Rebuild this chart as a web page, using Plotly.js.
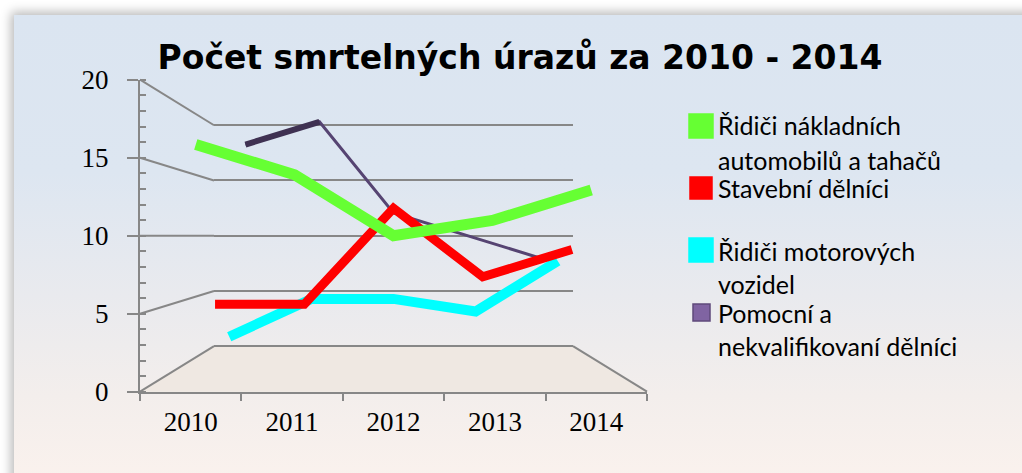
<!DOCTYPE html>
<html>
<head>
<meta charset="utf-8">
<script src="https://cdn.plot.ly/plotly-3.0.1.min.js"></script>
<style>
  html, body { margin: 0; padding: 0; background: #ffffff; overflow: hidden; }
  #frame {
    position: absolute; left: 14px; top: 15px; width: 1100px; height: 560px;
    background: linear-gradient(to bottom, #dbe5f1 0%, #dde6f1 28%, #e9eaee 50%, #f3eeec 68%, #fbf2ed 85%, #fdf3ee 100%);
    box-shadow: -3px -3px 10px rgba(0,0,0,0.28);
  }
  #chart { position: absolute; left: 0; top: 0; width: 1022px; height: 473px; }
</style>
</head>
<body>
<div id="frame"></div>
<div id="chart"></div>
<script>
// ---- data ----
const years = ['2010', '2011', '2012', '2013', '2014'];
const seriesNames = [
  'Řidiči nákladních<br>automobilů a tahačů',
  'Stavební dělníci',
  'Řidiči motorových<br>vozidel',
  'Pomocní a<br>nekvalifikovaní dělníci'
];
const truckDrivers = [16, 14, 10, 11, 13];
const constructionWorkers = [5, 5, 12, 7, 9];
const vehicleDrivers = [2, 5, 5, 4, 8];
const auxiliaryWorkers = [18, 20, 12, 10, 8];
const yTickValues = [0, 5, 10, 15, 20];
const chartTitle = 'Počet smrtelných úrazů za 2010 - 2014';

// ---- geometry (pixels of the 1022x473 page) ----
const W = 1022, H = 473;
const px = x => x / W;
const py = y => (H - y) / H;
const HORIZON = 235.7;      // pixel row of value 10 (eye level)
const SCALE = 15.6;         // px per unit on the front plane
const CX = 393.5;           // vanishing centre column
const HALF = 253.5;         // half width of the front plane
const K_BACK = 0.708;       // perspective factor of the back wall
const yAt = (v, k) => HORIZON - (v - 10) * SCALE * k;
const xAt = (f, k) => CX + (f - 0.5) * 2 * HALF * k;   // f: 0..1 across width

function depthAxes(k, lo, hi) {
  return {
    x: [px(xAt(0, k)), px(xAt(1, k))],
    y: [py(yAt(lo, k)), py(yAt(hi, k))]
  };
}

const GRID = '#878787';
const hidden = { visible: false, fixedrange: true };

const layout = {
  width: W, height: H,
  margin: { l: 0, r: 0, t: 0, b: 0 },
  paper_bgcolor: 'rgba(0,0,0,0)',
  plot_bgcolor: 'rgba(0,0,0,0)',
  showlegend: false,
  title: {
    text: chartTitle,
    font: { family: 'DejaVu Sans', size: 33, color: '#000000', weight: 'bold' },
    x: px(520), xanchor: 'center', y: py(57), yanchor: 'middle'
  },
  shapes: [],
  annotations: []
};

const data = [];

// front axes
const fd = depthAxes(1, 0, 20);
layout.xaxis = {
  domain: fd.x, anchor: 'y', type: 'category', categoryarray: years,
  range: [-0.5, 4.5], showline: true, linecolor: GRID, linewidth: 2,
  ticks: 'outside', tickson: 'boundaries', ticklen: 7, tickcolor: GRID, tickwidth: 2,
  showgrid: false, zeroline: false, ticklabelstandoff: 5,
  tickfont: { family: 'Liberation Serif', size: 27, color: '#000' }, fixedrange: true
};
layout.yaxis = {
  domain: fd.y, anchor: 'x', range: [0, 20], tickvals: yTickValues,
  showline: true, linecolor: GRID, linewidth: 2,
  ticks: 'outside', ticklen: 11, tickcolor: GRID, tickwidth: 2,
  minor: { dtick: 1, ticks: 'inside', ticklen: 6, tickcolor: GRID, tickwidth: 2, showgrid: false },
  showgrid: false, zeroline: false, ticklabelstandoff: 13,
  tickfont: { family: 'Liberation Serif', size: 27, color: '#000' }, fixedrange: true
};
// carrier trace so the front subplot is built (no visible marks)
data.push({ type: 'scatter', mode: 'lines', x: years, y: years.map(() => null), xaxis: 'x', yaxis: 'y', hoverinfo: 'skip', showlegend: false });

// back wall (gridlines); range padded so the 0 and 20 lines are kept
const PAD = 0.4;
const bd = depthAxes(K_BACK, -PAD, 20 + PAD);
layout.xaxis2 = { domain: bd.x, anchor: 'y2', type: 'category', categoryarray: years, range: [-0.5, 4.5], showgrid: false, showline: false, zeroline: false, showticklabels: false, ticks: '', fixedrange: true };
layout.yaxis2 = {
  domain: bd.y, anchor: 'x2', range: [-PAD, 20 + PAD], tickvals: yTickValues,
  showgrid: true, gridcolor: GRID, gridwidth: 2,
  zeroline: false, showline: false, showticklabels: false, ticks: '', fixedrange: true
};
data.push({ type: 'scatter', mode: 'lines', x: years, y: years.map(() => null), xaxis: 'x2', yaxis: 'y2', hoverinfo: 'skip', showlegend: false });

// series depths (front -> back)
const series = [
  { name: seriesNames[3], values: auxiliaryWorkers, k: 0.73, color: '#564472', width: 3, ax: 3 },
  { name: seriesNames[2], values: vehicleDrivers, k: 0.81, color: '#00ffff', width: 10, ax: 4 },
  { name: seriesNames[1], values: constructionWorkers, k: 0.88, color: '#ff0000', width: 9, ax: 5 },
  { name: seriesNames[0], values: truckDrivers, k: 0.975, color: '#66ff33', width: 11, ax: 6 }
];

series.forEach(s => {
  const d = depthAxes(s.k, -5, 25);
  layout['xaxis' + s.ax] = Object.assign({ domain: d.x, anchor: 'y' + s.ax, type: 'category', categoryarray: years, range: [-0.5, 4.5] }, hidden);
  layout['yaxis' + s.ax] = Object.assign({ domain: d.y, anchor: 'x' + s.ax, range: [-5, 25] }, hidden);
  data.push({
    type: 'scatter', mode: 'lines', name: s.name,
    x: years, y: s.values, xaxis: 'x' + s.ax, yaxis: 'y' + s.ax,
    line: { color: s.color, width: s.width }, cliponaxis: false, hoverinfo: 'skip'
  });
  if (s.ax === 3) {
    // ribbon seen from its broad side on the first segment
    data.push({
      type: 'scatter', mode: 'lines', name: s.name, showlegend: false,
      x: years.slice(0, 2), y: s.values.slice(0, 2), xaxis: 'x3', yaxis: 'y3',
      line: { color: '#3f3152', width: 6 }, cliponaxis: false, hoverinfo: 'skip'
    });
  }
});

// floor
const fl = { x0: xAt(0, 1), x1: xAt(1, 1), bx0: xAt(0, K_BACK), bx1: xAt(1, K_BACK), y0: yAt(0, 1), by: yAt(0, K_BACK) };
layout.shapes.push({
  type: 'path', xref: 'paper', yref: 'paper', layer: 'below',
  path: `M ${px(fl.x0)} ${py(fl.y0)} L ${px(fl.x1)} ${py(fl.y0)} L ${px(fl.bx1)} ${py(fl.by)} L ${px(fl.bx0)} ${py(fl.by)} Z`,
  fillcolor: '#efe8e2', line: { width: 0 }
});
// side wall lines
yTickValues.forEach(v => {
  layout.shapes.push({
    type: 'line', xref: 'paper', yref: 'paper', layer: 'below',
    x0: px(xAt(0, 1)), y0: py(yAt(v, 1)), x1: px(xAt(0, K_BACK)), y1: py(yAt(v, K_BACK)),
    line: { color: GRID, width: 2 }
  });
});
// floor right edge
layout.shapes.push({
  type: 'line', xref: 'paper', yref: 'paper', layer: 'below',
  x0: px(xAt(1, K_BACK)), y0: py(yAt(0, K_BACK)), x1: px(xAt(1, 1)), y1: py(yAt(0, 1)),
  line: { color: GRID, width: 2 }
});

// legend (manual, to follow the original spacing)
const legendItems = [
  { s: series[3], box: [689, 114, 713, 138], rows: [125, 160], fill: '#66ff33', line: '#66ff33' },
  { s: series[2], box: [690, 177, 712, 199], rows: [188], fill: '#ff0000', line: '#ff0000' },
  { s: series[1], box: [689, 238, 713, 262], rows: [251, 284], fill: '#00ffff', line: '#00ffff' },
  { s: series[0], box: [693, 304, 710, 321], rows: [313, 346], fill: '#8064a2', line: '#5f4a7b' }
];
legendItems.forEach(it => {
  const b = it.box;
  layout.shapes.push({
    type: 'rect', xref: 'paper', yref: 'paper',
    x0: px(b[0]), x1: px(b[2]), y0: py(b[3]), y1: py(b[1]),
    fillcolor: it.fill, line: { color: it.line, width: 1.5 }
  });
  it.s.name.split('<br>').forEach((t, i) => {
    layout.annotations.push({
      xref: 'paper', yref: 'paper', x: px(716), y: py(it.rows[i]),
      xanchor: 'left', yanchor: 'middle', showarrow: false, text: t,
      font: { family: 'Lato', size: 25, color: '#000' }
    });
  });
});

Plotly.newPlot('chart', data, layout, { staticPlot: true, displayModeBar: false });
</script>
</body>
</html>
